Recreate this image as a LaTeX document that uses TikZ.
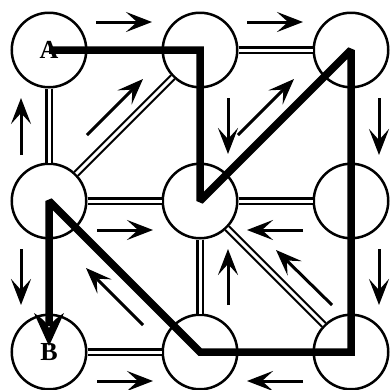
\documentclass[tikz,border=0pt]{standalone}
\usepackage{fontspec}
\setmainfont{Liberation Serif}
\usetikzlibrary{arrows.meta}
\begin{document}
\begin{tikzpicture}[x=1pt,y=-1pt,
  vert/.style={circle,draw,line width=2.5pt,fill=white,minimum size=74.5pt,inner sep=0pt,
    font=\fontsize{26}{26}\selectfont\bfseries},
  edge/.style={draw,line width=2.2pt,double=white,double distance=3pt},
  dir/.style={line width=3pt,-{Stealth[length=26pt,width=20pt,inset=11pt]}},
  route/.style={line width=7.5pt,line join=miter,miter limit=2},
  bighead/.style={fill=black}]
\useasboundingbox (0,0) rectangle (391,389);
% vertices
\node[vert] (n11) at (49,50) {A};
\node[vert] (n12) at (200,50) {};
\node[vert] (n13) at (351,50) {};
\node[vert] (n21) at (49,201) {};
\node[vert] (n22) at (200,201) {};
\node[vert] (n23) at (351,201) {};
\node[vert] (n31) at (49,352) {B};
\node[vert] (n32) at (200,352) {};
\node[vert] (n33) at (351,352) {};
% double edges
\draw[edge] (n11) -- (n21);
\draw[edge] (n12) -- (n13);
\draw[edge] (n21) -- (n12);
\draw[edge] (n21) -- (n22);
\draw[edge] (n22) -- (n23);
\draw[edge] (n22) -- (n32);
\draw[edge] (n22) -- (n33);
\draw[edge] (n31) -- (n32);
% direction arrows
\draw[dir] (96,22) -- (152,22);
\draw[dir] (247,22) -- (303,22);
\draw[dir] (21,155) -- (21,98);
\draw[dir] (87,135) -- (143,79);
\draw[dir] (228,98) -- (228,154);
\draw[dir] (238,135) -- (294,79);
\draw[dir] (379,98) -- (379,155);
\draw[dir] (21,249) -- (21,305);
\draw[dir] (97,230) -- (153,230);
\draw[dir] (143,325) -- (86,268);
\draw[dir] (303,230) -- (247,230);
\draw[dir] (228,305) -- (228,249);
\draw[dir] (332,305) -- (276,250);
\draw[dir] (379,249) -- (379,305);
\draw[dir] (97,381) -- (153,381);
\draw[dir] (303,381) -- (247,381);
% route
\coordinate (Btip) at (49,346);
\coordinate (Bback) at (49,326);
\draw[route] (n11.center) -- (n12.center) -- (n22.center) -- (n13.center)
  -- (n33.center) -- (n32.center) -- (n21.center) -- (Bback);
\fill[bighead] (Btip) -- ++(-15,-33) .. controls ++(6,4) and ++(-2,-6) .. ++(15,15)
  .. controls ++(2,-6) and ++(-6,4) .. ++(15,-15) -- cycle;
\end{tikzpicture}
\end{document}
